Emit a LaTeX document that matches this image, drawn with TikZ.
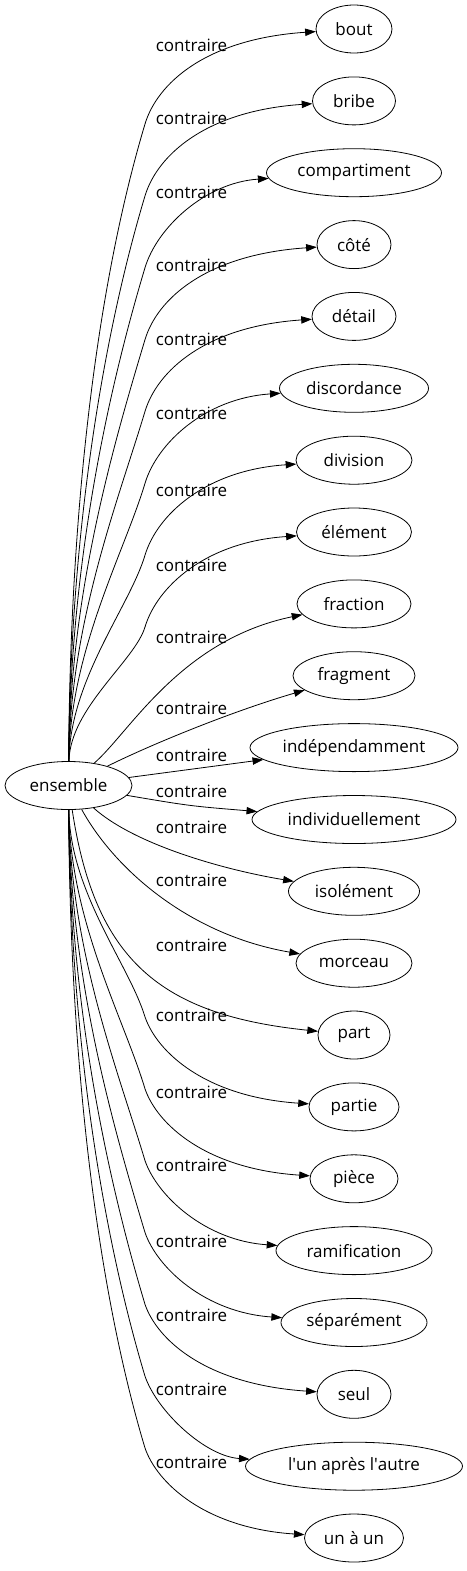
\documentclass[tikz,border=0pt]{standalone}
\usepackage{fontspec}
\setmainfont{Open Sans}
\usetikzlibrary{shapes.geometric,arrows.meta}

\tikzset{
  word/.style={ellipse, draw, line width=0.6pt, inner sep=0pt, minimum height=36pt, font=\fontsize{12.75}{15}\selectfont},
  rel/.style={inner sep=0pt, font=\fontsize{12.75}{15}\selectfont},
  link/.style={-{Triangle[length=8pt,width=5.5pt]}, line width=0.6pt},
}

\begin{document}
\begin{tikzpicture}[x=0.75pt,y=-0.75pt]
\useasboundingbox (0,0) rectangle (467,1571);

%Root
\node[word, minimum width=95.25pt] (ensemble) at (68.5,785.5) {ensemble};

%Targets
\node[word, minimum width=57pt] (bout) at (354,29) {bout};
\node[word, minimum width=62.25pt] (bribe) at (354,100.9) {bribe};
\node[word, minimum width=131.25pt] (compartiment) at (354,172.7) {compartiment};
\node[word, minimum width=55.5pt] (cote) at (354,244.6) {côté};
\node[word, minimum width=63pt] (detail) at (354,316.4) {détail};
\node[word, minimum width=111.75pt] (discordance) at (354,388.3) {discordance};
\node[word, minimum width=87pt] (division) at (354,460.2) {division};
\node[word, minimum width=86.25pt] (element) at (354,532) {élément};
\node[word, minimum width=85.5pt] (fraction) at (354,603.9) {fraction};
\node[word, minimum width=91.5pt] (fragment) at (354,675.7) {fragment};
\node[word, minimum width=156pt] (independamment) at (354,747.6) {indépendamment};
\node[word, minimum width=153pt] (individuellement) at (354,819.5) {individuellement};
\node[word, minimum width=98.25pt] (isolement) at (354,891.3) {isolément};
\node[word, minimum width=87pt] (morceau) at (354,963.2) {morceau};
\node[word, minimum width=54pt] (part) at (354,1035) {part};
\node[word, minimum width=67.5pt] (partie) at (354,1106.9) {partie};
\node[word, minimum width=66pt] (piece) at (354,1178.8) {pièce};
\node[word, minimum width=117pt] (ramification) at (354,1250.6) {ramification};
\node[word, minimum width=109.5pt] (separement) at (354,1322.5) {séparément};
\node[word, minimum width=55.5pt] (seul) at (354,1394.3) {seul};
\node[word, minimum width=162.75pt] (unapres) at (354,1466.2) {l\textquotesingle un après l\textquotesingle autre};
\node[word, minimum width=74.25pt] (unaun) at (354,1538) {un à un};

%Edges, upper fan
\draw[link] (ensemble) .. controls (70,506.8) and (97.2,283.5) .. (145,124) .. controls (157,84) and (205,39) .. (bout);
\draw[link] (ensemble) .. controls (70,535.6) and (102.5,337.4) .. (145,195.9) .. controls (157,155.9) and (205,110.9) .. (bribe);
\draw[link] (ensemble) .. controls (70,564.3) and (107.9,391.3) .. (145,267.7) .. controls (157,227.7) and (205,182.7) .. (compartiment);
\draw[link] (ensemble) .. controls (70,593) and (113.3,445.2) .. (145,339.6) .. controls (157,299.6) and (205,254.6) .. (cote);
\draw[link] (ensemble) .. controls (70,621.8) and (118.7,499.1) .. (145,411.4) .. controls (157,371.4) and (205,326.4) .. (detail);
\draw[link] (ensemble) .. controls (70,650.5) and (124.1,553) .. (145,483.3) .. controls (157,443.3) and (205,398.3) .. (discordance);
\draw[link] (ensemble) .. controls (70,679.3) and (129.5,606.9) .. (145,555.2) .. controls (157,515.2) and (205,470.2) .. (division);
\draw[link] (ensemble) .. controls (70,708) and (134.9,660.8) .. (145,627) .. controls (157,587) and (205,542) .. (element);
\draw[link] (ensemble) .. controls (130,732) and (180,640) .. (fraction);
\draw[link] (ensemble) .. controls (150,745) and (230,712) .. (fragment);

%Edges, middle
\draw[link] (ensemble) -- (independamment);
\draw[link] (ensemble) .. controls (190,806) .. (individuellement);

%Edges, lower fan
\draw[link] (ensemble) .. controls (135,845) and (225,870) .. (isolement);
\draw[link] (ensemble) .. controls (115,870) and (190,935) .. (morceau);
\draw[link] (ensemble) .. controls (95,960) and (160,1015) .. (part);
\draw[link] (ensemble) .. controls (70,892.5) and (129.4,965.1) .. (145,1016.9) .. controls (157,1051.9) and (205,1096.9) .. (partie);
\draw[link] (ensemble) .. controls (70,921.2) and (124.1,1019) .. (145,1088.8) .. controls (157,1123.8) and (205,1168.8) .. (piece);
\draw[link] (ensemble) .. controls (70,949.9) and (118.7,1072.8) .. (145,1160.6) .. controls (157,1195.6) and (205,1240.6) .. (ramification);
\draw[link] (ensemble) .. controls (70,978.7) and (113.3,1126.8) .. (145,1232.5) .. controls (157,1267.5) and (205,1312.5) .. (separement);
\draw[link] (ensemble) .. controls (70,1007.4) and (107.9,1180.6) .. (145,1304.3) .. controls (157,1339.3) and (205,1384.3) .. (seul);
\draw[link] (ensemble) .. controls (70,1036.2) and (102.5,1234.5) .. (145,1376.2) .. controls (157,1411.2) and (205,1456.2) .. (unapres);
\draw[link] (ensemble) .. controls (70,1064.9) and (97.1,1288.4) .. (145,1448) .. controls (157,1483) and (205,1528) .. (unaun);

%Labels
\node[rel] (lbout) at (191.5,45) {contraire};
\node[rel] (lbribe) at (191.5,118) {contraire};
\node[rel] (lcompartiment) at (191.5,192) {contraire};
\node[rel] (lcote) at (191.5,265) {contraire};
\node[rel] (ldetail) at (191.5,339) {contraire};
\node[rel] (ldiscordance) at (191.5,413) {contraire};
\node[rel] (ldivision) at (191.5,490) {contraire};
\node[rel] (lelement) at (191.5,565) {contraire};
\node[rel] (lfraction) at (191.5,637) {contraire};
\node[rel] (lfragment) at (191.5,708) {contraire};
\node[rel] (lindependamment) at (191.5,755) {contraire};
\node[rel] (lindividuellement) at (191.5,791) {contraire};
\node[rel] (lisolement) at (191.5,827) {contraire};
\node[rel] (lmorceau) at (191.5,880) {contraire};
\node[rel] (lpart) at (191.5,945) {contraire};
\node[rel] (lpartie) at (191.5,1015) {contraire};
\node[rel] (lpiece) at (191.5,1092) {contraire};
\node[rel] (lramification) at (191.5,1165) {contraire};
\node[rel] (lseparement) at (191.5,1241) {contraire};
\node[rel] (lseul) at (191.5,1315) {contraire};
\node[rel] (lunapres) at (191.5,1389) {contraire};
\node[rel] (lunaun) at (191.5,1462) {contraire};

\end{tikzpicture}
\end{document}
